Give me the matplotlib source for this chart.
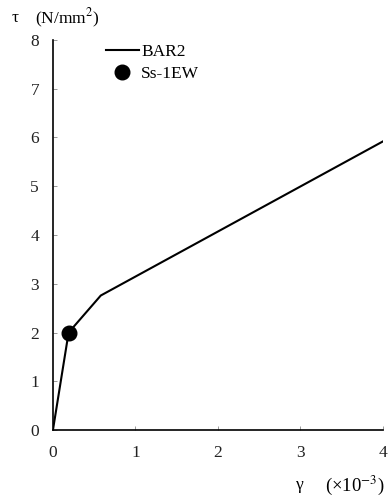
import matplotlib
matplotlib.use("Agg")
import matplotlib.pyplot as plt

# skeleton curve (gamma x10^-3, tau N/mm2)
gamma = [0.0, 0.19, 0.58, 4.0]
tau = [0.0, 2.0, 2.76, 5.92]

# response point
pt_gamma = [0.19]
pt_tau = [2.0]

plt.rcParams['font.family'] = ['Liberation Serif', 'DejaVu Serif']
plt.rcParams['mathtext.fontset'] = 'stix'

fig = plt.figure(figsize=(3.92, 4.99), dpi=100)
ax = fig.add_axes([0.135, 0.138, 0.842, 0.782])

ax.plot(gamma, tau, color='black', lw=1.5, label='BAR2')
ax.plot(pt_gamma, pt_tau, 'o', color='black', ms=10.5, label='Ss-1EW', zorder=3)

ax.set_xlim(0, 4)
ax.set_ylim(0, 8)
ax.set_xticks(range(0, 5))
ax.set_yticks(range(0, 9))
ax.tick_params(axis='both', direction='in', length=3, width=0.6, color='#888888',
               labelsize=12.5, labelcolor='#222222')
ax.tick_params(axis='x', pad=11)
ax.tick_params(axis='y', pad=10)
ax.spines['top'].set_visible(False)
ax.spines['right'].set_visible(False)
for s in ['left', 'bottom']:
    ax.spines[s].set_linewidth(1.2)

fig.text(0.03, 0.964, 'τ', fontsize=12.5, ha='left', va='center')
fig.text(0.09, 0.964, '(N/mm$^2$)', fontsize=12.5, ha='left', va='center')
fig.text(0.755, 0.028, 'γ', fontsize=12.5, ha='left', va='center')
fig.text(0.982, 0.028, '(×10$^{-3}$)', fontsize=13.5, ha='right', va='center')

leg = ax.legend(loc='upper left', bbox_to_anchor=(0.16, 0.99), frameon=False,
                fontsize=12.5, handlelength=1.9, handletextpad=0.15, labelspacing=0.35,
                borderaxespad=0, borderpad=0)

fig.savefig('out.png', dpi=100)
